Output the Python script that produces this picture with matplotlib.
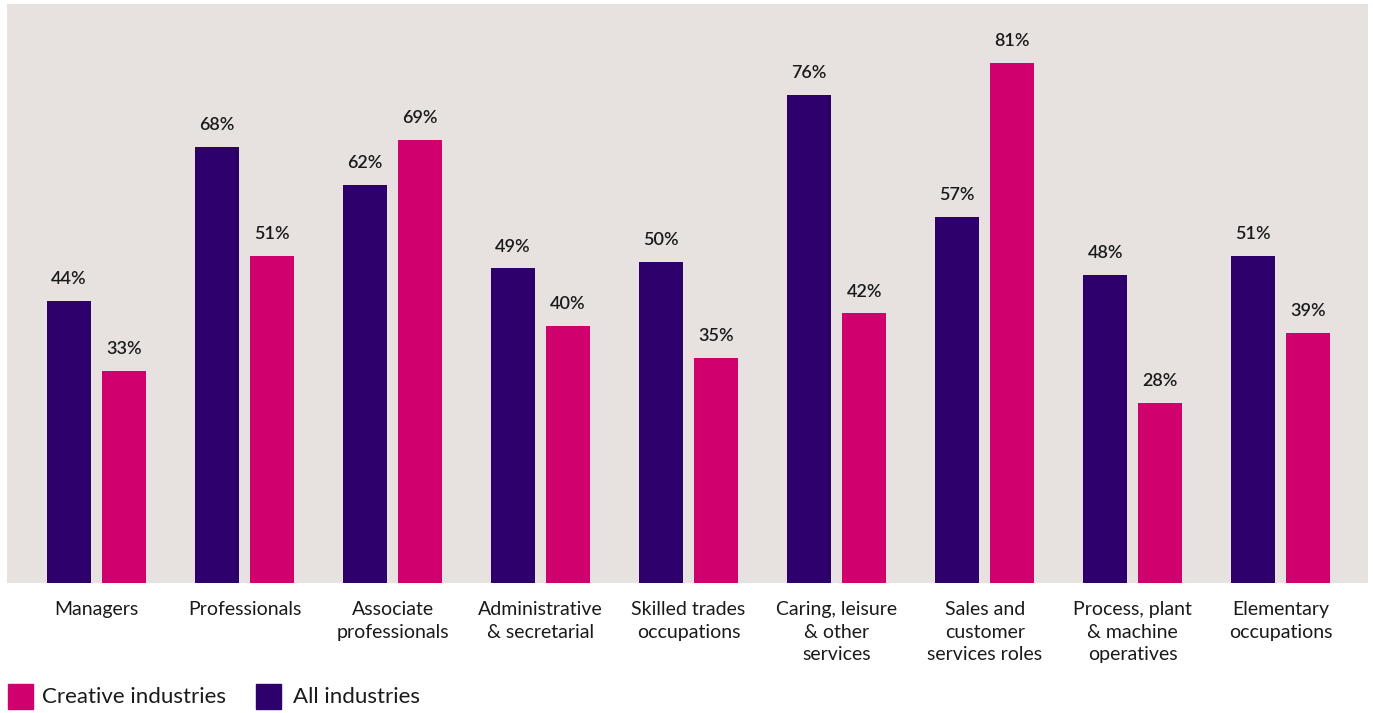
import matplotlib
matplotlib.use("Agg")
import matplotlib.pyplot as plt
from matplotlib.patches import Rectangle
import numpy as np

plt.rcParams['font.family'] = ['Lato', 'DejaVu Sans']

categories = ["Managers", "Professionals", "Associate\nprofessionals",
              "Administrative\n& secretarial", "Skilled trades\noccupations",
              "Caring, leisure\n& other\nservices", "Sales and\ncustomer\nservices roles",
              "Process, plant\n& machine\noperatives", "Elementary\noccupations"]
all_industries = [44, 68, 62, 49, 50, 76, 57, 48, 51]
creative_industries = [33, 51, 69, 40, 35, 42, 81, 28, 39]

PURPLE = "#2E006B"
MAGENTA = "#D1006F"
PANEL = "#E7E2DF"
TEXT = "#1a1a1a"

W, H = 1373, 713
fig = plt.figure(figsize=(W / 100, H / 100), dpi=100)
ax = fig.add_axes([7 / W, (713 - 583) / H, (1368 - 7) / W, (583 - 4) / H])
ax.set_facecolor(PANEL)

x = np.arange(len(categories))
bw = 0.297
off = 0.186

b1 = ax.bar(x - off, all_industries, bw, color=PURPLE, zorder=2, clip_on=False)
b2 = ax.bar(x + off, creative_industries, bw, color=MAGENTA, zorder=2, clip_on=False)

for bars, vals in ((b1, all_industries), (b2, creative_industries)):
    for rect, v in zip(bars, vals):
        ax.annotate(f"{v}%", (rect.get_x() + rect.get_width() / 2, v),
                    xytext=(0, 10), textcoords="offset points",
                    ha="center", va="bottom", fontsize=13, color=TEXT,
                    fontweight="semibold")

ax.set_xlim(-0.605, 8.59)
ax.set_ylim(0, 90.2)
for s in ax.spines.values():
    s.set_visible(False)
ax.set_yticks([])
ax.set_xticks(x)
ax.set_xticklabels(categories, fontsize=14, color=TEXT, linespacing=1.4)
ax.tick_params(axis="x", length=0, pad=13)

# legend
fig.patches.append(Rectangle((8 / W, (713 - 709) / H), 25 / W, 25 / H,
                             transform=fig.transFigure, color=MAGENTA))
fig.text(42 / W, (713 - 697) / H, "Creative industries", fontsize=16,
         va="center", ha="left", color=TEXT)
fig.patches.append(Rectangle((256 / W, (713 - 709) / H), 25 / W, 25 / H,
                             transform=fig.transFigure, color=PURPLE))
fig.text(293 / W, (713 - 697) / H, "All industries", fontsize=16,
         va="center", ha="left", color=TEXT)

fig.savefig("out.png", dpi=100, facecolor="white")
